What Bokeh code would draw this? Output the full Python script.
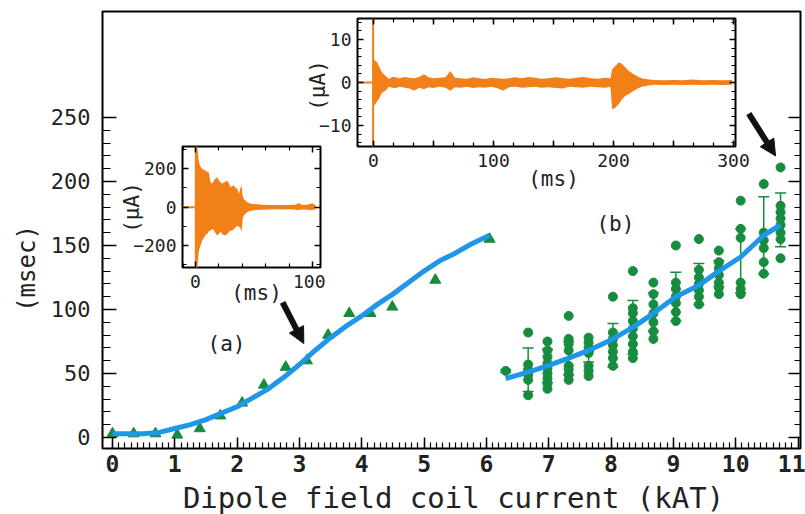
import math
from bokeh.plotting import figure
from bokeh.models import (Range1d, LinearAxis, FixedTicker, Label, Arrow, NormalHead,
                          Whisker, TeeHead, ColumnDataSource, CustomLabelingPolicy)
from bokeh.embed import file_html
from bokeh.resources import INLINE

FONT = "DejaVu Sans Mono"
TXT = "#222222"
GREEN = "#178c3e"
BLUE = "#1f97e8"
ORANGE = "#f28019"

# ---------------- data: (a) triangles and fit ----------------
A_X = [0.0, 0.34, 0.69, 1.04, 1.40, 1.73, 2.08, 2.43, 2.78, 3.12, 3.46, 3.80, 4.14, 4.49, 5.18, 6.05]
A_Y = [3, 3, 3, 2, 7, 17, 27, 41, 55, 60, 80, 97, 97, 102, 123, 155]
FIT_A_X = [0.0, 0.5, 0.75, 1.0, 1.25, 1.5, 1.75, 2.0, 2.25, 2.5, 2.75, 3.0, 3.25, 3.5, 3.75,
           4.0, 4.25, 4.5, 4.75, 5.0, 5.25, 5.5, 5.75, 6.05]
FIT_A_Y = [3, 3, 4, 7, 10, 14, 19, 24, 31, 38, 47, 57, 68, 78, 87,
           95, 104, 112, 121, 130, 138, 144, 151, 158]

# ---------------- data: (b) columns of points, mean and error ----------------
B_COLS = [6.31, 6.67, 6.98, 7.32, 7.64, 8.03, 8.35, 8.68, 9.04, 9.41, 9.73, 10.08, 10.45, 10.72]
B_VALS = [
    [52],
    [82, 57, 53, 49, 45, 33],
    [75, 68, 63, 58, 54, 50, 46, 42, 38],
    [95, 77, 73, 68, 56, 53, 49, 45],
    [78, 74, 70, 66, 56, 52, 48],
    [110, 82, 77, 72, 67, 62, 56],
    [130, 101, 97, 91, 85, 79, 73, 67, 62],
    [121, 112, 104, 97, 90, 83, 77],
    [150, 121, 116, 110, 105, 98, 91],
    [155, 131, 125, 120, 115, 110, 104],
    [146, 137, 132, 127, 121, 117, 112],
    [185, 163, 156, 121, 116, 112],
    [198, 160, 154, 148, 137, 128],
    [211, 181, 176, 171, 166, 160, 155, 140],
]
B_MEAN = [52, 53, 56, 62, 63, 72, 86, 98, 110, 120, 128, 138, 158, 170]
B_ERR = [1, 17, 13, 13, 4, 17, 21, 15, 19, 16, 10, 25, 30, 21]
FIT_B_X = [6.31, 6.67, 6.98, 7.32, 7.64, 8.03, 8.35, 8.68, 9.04, 9.41, 9.73, 10.08, 10.45, 10.72]
FIT_B_Y = [46, 51, 56, 62, 68, 77, 86, 97, 110, 119, 130, 141, 158, 166]

# ---------------- data: inset (a) signal envelope (ms, uA) ----------------
SIG_A_T = [-0.6, 1.4, 2.9, 4.3, 5.7, 7.1, 8.5, 10.0, 11.4, 12.8, 14.2, 15.7, 17.1, 18.5, 19.9,
           21.4, 22.8, 24.2, 25.6, 27.1, 28.5, 29.9, 31.3, 32.8, 34.2, 35.6, 37.0, 38.4, 39.3,
           40.3, 41.3, 42.7, 44.2, 46.3, 48.4, 52.7, 57.0, 62.7, 68.4, 74.1, 79.8, 85.5, 88.3,
           91.2, 95.5, 99.7, 102.6]
SIG_A_HI = [322, 322, 235, 209, 200, 195, 191, 183, 180, 130, 122, 139, 150, 157, 140,
            130, 122, 128, 133, 139, 125, 104, 110, 113, 100, 96, 70, 100, 113,
            60, 43, 33, 26, 20, 17, 15, 13, 12, 11, 12, 11, 13, 22,
            12, 13, 20, 12]
SIG_A_LO = [-322, -322, -226, -200, -174, -160, -145, -139, -125, -122, -113, -120, -135, -148, -140,
            -128, -139, -145, -148, -140, -130, -122, -122, -115, -105, -96, -100, -110, -130,
            -60, -43, -33, -26, -20, -17, -15, -13, -12, -11, -12, -11, -13, -14,
            -12, -13, -14, -12]

# ---------------- data: inset (b) signal envelope (ms, uA) ----------------
SIG_B_T = [-0.6, 0.3, 1.7, 3.1, 4.4, 5.8, 7.2, 10, 12.8, 15.6, 18.3, 22, 26, 30, 34, 38, 42, 46,
           50, 55, 60, 64, 68, 73, 78, 83, 88, 93, 98, 103, 108, 113, 118, 124, 129, 135, 140,
           146, 152, 158, 163, 169, 175, 181, 187, 193, 197.5, 198.9, 201.7, 204.4, 207.2, 210,
           212.8, 217, 221, 225, 233.6, 242, 250, 258, 266, 274, 282, 290, 299]
SIG_B_HI = [15, 5.4, 5.0, 4.7, 3.9, 3.1, 2.3, 1.6, 0.8, 1.3, 1.2, 1.0, 1.3, 1.1, 1.0, 1.3, 1.9, 1.2,
            1.0, 1.1, 1.2, 2.7, 1.1, 1.0, 0.9, 1.2, 1.0, 0.8, 1.1, 1.0, 0.9, 1.0, 1.2, 1.0, 1.3, 1.1,
            0.9, 1.0, 1.2, 1.0, 0.9, 1.1, 1.3, 1.0, 0.9, 1.1, 1.0, 3.1, 3.9, 4.7, 4.3, 3.5, 2.7, 1.9,
            1.3, 0.9, 0.6, 0.5, 0.6, 0.5, 0.7, 0.5, 0.6, 0.5, 0.6]
SIG_B_LO = [-15, -5.4, -5.0, -4.3, -3.9, -3.1, -2.3, -1.9, -1.0, -1.2, -1.3, -1.0, -1.2, -1.4, -1.9,
            -1.2, -1.6, -1.1, -1.3, -1.0, -1.2, -1.9, -1.1, -1.2, -1.0, -1.3, -1.1, -1.2, -1.0, -1.3,
            -1.9, -1.1, -1.0, -1.2, -1.1, -1.0, -1.2, -1.1, -1.3, -1.4, -1.0, -1.1, -1.2, -1.0, -1.1,
            -1.2, -1.0, -6.2, -5.8, -5.0, -3.9, -3.1, -2.7, -1.9, -1.3, -0.9, -0.55, -0.6, -0.5, -0.6,
            -0.5, -0.6, -0.5, -0.6, -0.5]

X_TICKS = list(range(0, 12))
Y_TICKS = [0, 50, 100, 150, 200, 250]

# annotation anchors (data coords)
ARROW_A = (2.73, 105.5, 3.07, 73.4)
ARROW_B = (10.21, 253.0, 10.64, 220.0)

NO_LABELS = CustomLabelingPolicy(code="""
for (const i of indices) {
    if (i < 0) yield i
}
""")


def style_axis(ax, major_in, minor_in, size=None, bold=False, standoff=0):
    ax.axis_line_color = None
    ax.major_tick_in = major_in
    ax.major_tick_out = 0
    ax.minor_tick_in = minor_in
    ax.minor_tick_out = 0
    ax.major_tick_line_color = "black"
    ax.minor_tick_line_color = "black"
    ax.major_tick_line_width = 1.5
    ax.minor_tick_line_width = 1.2
    ax.major_label_text_font = FONT
    ax.major_label_text_color = TXT
    ax.major_label_standoff = standoff
    if size is None:
        ax.major_label_text_font_size = "1px"
        ax.major_label_policy = NO_LABELS
    else:
        ax.major_label_text_font_size = size
    if bold:
        ax.major_label_text_font_style = "bold"


def label(fig, x, y, text, size, angle=0.0, align="center", baseline="middle"):
    fig.add_layout(Label(x=x, y=y, text=text, angle=angle, text_font=FONT,
                         text_font_size=size, text_color=TXT, text_align=align,
                         text_baseline=baseline))


# ================= main figure =================
p = figure(width=805, height=514, x_range=Range1d(-0.16, 11.04), y_range=Range1d(-8.6, 332.8),
           output_backend="svg", toolbar_location=None,
           min_border_left=102, min_border_right=5, min_border_top=11, min_border_bottom=66,
           background_fill_color="white", border_fill_color="white",
           outline_line_color="black", outline_line_width=2,
           styles={"position": "absolute", "left": "0px", "top": "0px"})
p.grid.visible = False

xt = FixedTicker(ticks=X_TICKS, minor_ticks=[i / 10 for i in range(0, 111)])
yt = FixedTicker(ticks=Y_TICKS, minor_ticks=list(range(0, 251, 10)))
p.xaxis[0].ticker = xt
p.yaxis[0].ticker = yt
style_axis(p.xaxis[0], 11, 6, "23px", bold=True, standoff=6)
style_axis(p.yaxis[0], 14, 8, "22px", standoff=12)
ry = LinearAxis(ticker=yt)
style_axis(ry, 12, 6)
p.add_layout(ry, "right")

# (a) data
p.scatter(A_X, A_Y, marker="triangle", size=11, color=GREEN)
p.line(FIT_A_X, FIT_A_Y, line_color=BLUE, line_width=5)

# (b) data
bx, by = [], []
for c, vals in zip(B_COLS, B_VALS):
    for v in vals:
        bx.append(c)
        by.append(v)
wsrc = ColumnDataSource(dict(x=B_COLS, up=[m + e for m, e in zip(B_MEAN, B_ERR)],
                             lo=[m - e for m, e in zip(B_MEAN, B_ERR)]))
p.add_layout(Whisker(source=wsrc, base="x", upper="up", lower="lo", dimension="height",
                     line_color=GREEN, line_width=1.5,
                     upper_head=TeeHead(size=11, line_color=GREEN, line_width=1.5),
                     lower_head=TeeHead(size=11, line_color=GREEN, line_width=1.5)))
p.scatter(bx, by, marker="circle", size=9, color=GREEN)
p.line(FIT_B_X, FIT_B_Y, line_color=BLUE, line_width=5)

for (x0, y0, x1, y1) in (ARROW_A, ARROW_B):
    p.add_layout(Arrow(x_start=x0, y_start=y0, x_end=x1, y_end=y1, line_width=6,
                       line_color="#111111",
                       end=NormalHead(size=16, fill_color="#111111", line_color="#111111")))

label(p, 1.83, 73, "(a)", "21px")
label(p, 8.07, 167, "(b)", "21px")


# ================= insets =================
def make_inset(w, h, left, top, xr, yr, bl, br, bt, bb):
    f = figure(width=w, height=h, x_range=Range1d(*xr), y_range=Range1d(*yr),
               output_backend="svg", toolbar_location=None,
               min_border_left=bl, min_border_right=br, min_border_top=bt, min_border_bottom=bb,
               background_fill_color="white", border_fill_alpha=0,
               outline_line_color="black", outline_line_width=2,
               styles={"position": "absolute", "left": f"{left}px", "top": f"{top}px"})
    f.grid.visible = False
    return f


# inset (a): frame at x 182-320, y 146-267
ia = make_inset(218, 176, 107, 141, (-11.1, 106.8), (-314, 316), 75, 5, 5, 50)
ta_x = FixedTicker(ticks=[0, 100], minor_ticks=[-10, 20, 40, 60, 80])
ta_y = FixedTicker(ticks=[-200, 0, 200], minor_ticks=[-300, -100, 100, 300])
ia.xaxis[0].ticker = ta_x
ia.yaxis[0].ticker = ta_y
style_axis(ia.xaxis[0], 6, 4, "18px", standoff=7)
style_axis(ia.yaxis[0], 6, 4, "18px", standoff=6)
for side, tk in (("right", ta_y), ("above", ta_x)):
    ax = LinearAxis(ticker=tk)
    style_axis(ax, 6, 4)
    ia.add_layout(ax, side)
ia.line([-11.1, -0.6], [0, 0], line_color=ORANGE, line_width=2)
ia.varea(x=SIG_A_T, y1=SIG_A_LO, y2=SIG_A_HI, fill_color=ORANGE)

# inset (b): frame at x 357-735, y 18-146
ib = make_inset(458, 183, 297, 13, (-13.3, 301.7), (-14.9, 14.9), 60, 20, 5, 50)
tb_x = FixedTicker(ticks=[0, 50, 100, 150, 200, 250, 300],
                   minor_ticks=[k * 50 / 3 for k in range(0, 19)])
tb_y = FixedTicker(ticks=[-10, 0, 10], minor_ticks=list(range(-14, 15, 2)))
ib.xaxis[0].ticker = tb_x
ib.yaxis[0].ticker = tb_y
ib.xaxis[0].major_label_overrides = {50: "", 150: "", 250: ""}
style_axis(ib.xaxis[0], 6, 4, "18px", standoff=7)
style_axis(ib.yaxis[0], 6, 4, "18px", standoff=6)
for side, tk in (("right", tb_y), ("above", tb_x)):
    ax = LinearAxis(ticker=tk)
    style_axis(ax, 6, 4)
    ib.add_layout(ax, side)
ib.line([-13.3, -0.6], [0, 0], line_color=ORANGE, line_width=2)
ib.varea(x=SIG_B_T, y1=SIG_B_LO, y2=SIG_B_HI, fill_color=ORANGE)
ib.segment(x0=[-0.3], y0=[-15], x1=[-0.3], y1=[15], line_color=ORANGE, line_width=2)

# ================= axis titles, placed in page pixels (y downward) =================
ov = figure(width=805, height=514, x_range=Range1d(0, 805), y_range=Range1d(514, 0),
            output_backend="svg", toolbar_location=None, title=None,
            min_border=0, min_border_left=0, min_border_right=0,
            min_border_top=0, min_border_bottom=0,
            x_axis_location=None, y_axis_location=None,
            background_fill_alpha=0, border_fill_alpha=0, outline_line_color=None,
            styles={"position": "absolute", "left": "0px", "top": "0px"})
ov.grid.visible = False
label(ov, 26, 268, "(msec)", "24px", angle=math.pi / 2)
label(ov, 453, 497, "Dipole field coil current (kAT)", "29px")
label(ov, 256, 292, "(ms)", "21px")
label(ov, 131, 207, "(\u03bcA)", "21px", angle=math.pi / 2)
label(ov, 553, 178, "(ms)", "21px")
label(ov, 317, 85, "(\u03bcA)", "21px", angle=math.pi / 2)

# independent roots stacked with absolute positions (no frame alignment between them)
open("out.html", "w").write(file_html([p, ia, ib, ov], INLINE))
